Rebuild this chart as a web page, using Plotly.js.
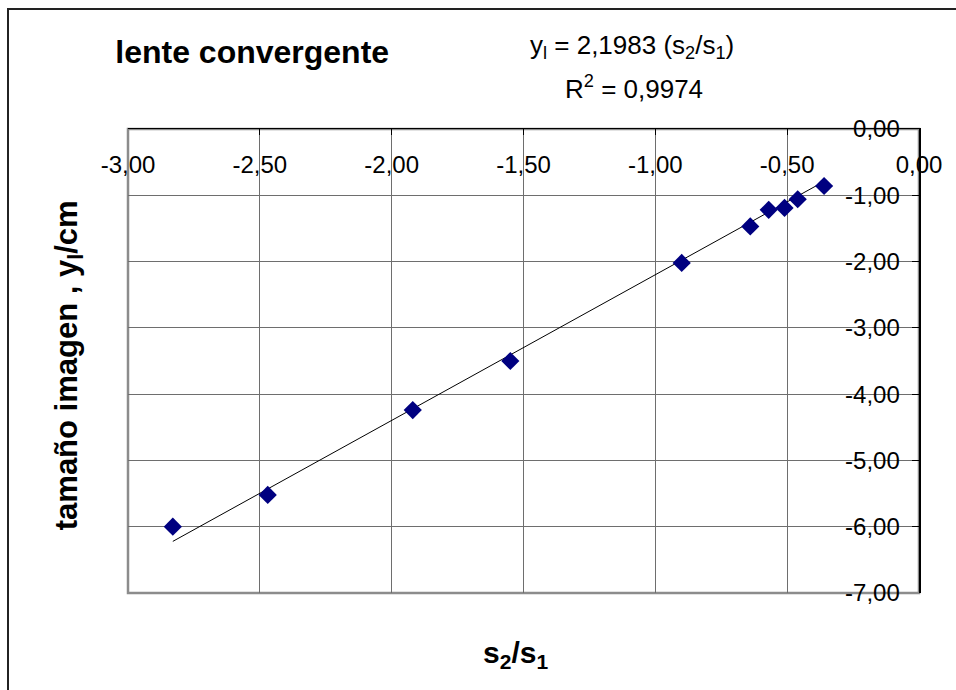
<!DOCTYPE html>
<html>
<head>
<meta charset="utf-8">
<script src="https://cdn.plot.ly/plotly-3.0.1.min.js"></script>
<style>html,body{margin:0;padding:0;background:#fff;}#chart{width:956px;height:690px;}</style>
</head>
<body>
<div id="chart"></div>
<script>
// Data
const ratioS2S1 = [-2.83, -2.47, -1.92, -1.55, -0.90, -0.64, -0.57, -0.51, -0.46, -0.36];
const imageSize = [-6.00, -5.52, -4.24, -3.50, -2.02, -1.47, -1.22, -1.19, -1.06, -0.86];
const trendSlope = 2.1983;   // from the printed trendline equation
const trendR2 = "0,9974";

const xTickVals = [-3, -2.5, -2, -1.5, -1, -0.5, 0];
const xTickText = ["-3,00", "-2,50", "-2,00", "-1,50", "-1,00", "-0,50", "0,00"];
const yTickVals = [0, -1, -2, -3, -4, -5, -6, -7];
const yTickText = ["0,00", "-1,00", "-2,00", "-3,00", "-4,00", "-5,00", "-6,00", "-7,00"];

const chartTitle = "lente convergente";
const xTitle = "s<sub>2</sub>/s<sub>1</sub>";
const yTitle = "tamaño imagen , y<sub>l</sub>/cm";

const FONT = '"Liberation Sans", Arial, sans-serif';

const xMin = Math.min(...ratioS2S1), xMax = Math.max(...ratioS2S1);
const trendX = [xMin, xMax];
const trendY = trendX.map(v => trendSlope * v);

const traces = [
  {
    x: trendX, y: trendY, type: 'scatter', mode: 'lines',
    line: {color: '#000000', width: 1}, hoverinfo: 'skip', showlegend: false
  },
  {
    x: ratioS2S1, y: imageSize, type: 'scatter', mode: 'markers',
    marker: {symbol: 'diamond', size: 14, color: '#000080', line: {width: 0}},
    showlegend: false
  }
];

const layout = {
  width: 956, height: 690,
  margin: {l: 128, r: 37, t: 129, b: 97, pad: 0},
  paper_bgcolor: '#ffffff', plot_bgcolor: '#ffffff',
  font: {family: FONT, color: '#000000'},
  showlegend: false,
  title: {
    text: chartTitle, font: {family: FONT, size: 32, weight: 'bold', color: '#000'},
    xref: 'paper', x: 0.157, xanchor: 'center',
    yref: 'container', y: 0.925, yanchor: 'middle'
  },
  xaxis: {
    range: [-3, 0], side: 'top', tickmode: 'array',
    tickvals: xTickVals, ticktext: xTickText,
    ticks: 'inside', ticklen: 6, tickwidth: 1, tickcolor: '#000',
    ticklabelposition: 'inside', ticklabeloverflow: 'allow', ticklabelstandoff: 23,
    tickfont: {family: FONT, size: 24, color: '#000'},
    showline: true, linecolor: '#000', linewidth: 1.5,
    showgrid: true, gridcolor: '#6e6e6e', gridwidth: 1, zeroline: false,
    fixedrange: true
  },
  yaxis: {
    range: [-7, 0], side: 'right', tickmode: 'array',
    tickvals: yTickVals, ticktext: yTickText,
    ticks: 'inside', ticklen: 7, tickwidth: 1, tickcolor: '#000',
    ticklabelposition: 'inside', ticklabeloverflow: 'allow', ticklabelstandoff: 14,
    tickfont: {family: FONT, size: 24, color: '#000'},
    showline: true, linecolor: '#000', linewidth: 1.5,
    showgrid: true, gridcolor: '#6e6e6e', gridwidth: 1, zeroline: false,
    fixedrange: true
  },
  shapes: [
    {type: 'rect', xref: 'paper', yref: 'paper', x0: 0, x1: 1, y0: 0, y1: 1,
     line: {color: '#8c8c8c', width: 2.5}, layer: 'below'},
    {type: 'rect', xref: 'paper', yref: 'paper', x0: -0.1517, x1: 1.2, y0: -0.4, y1: 1.2586,
     line: {color: '#222222', width: 2}, layer: 'above'}
  ],
  annotations: [
    {text: "y<sub>l</sub> = 2,1983 (s<sub>2</sub>/s<sub>1</sub>)", xref: 'paper', yref: 'paper',
     x: 0.637, y: 1.177, xanchor: 'center', yanchor: 'middle', showarrow: false,
     font: {family: FONT, size: 26, color: '#000'}},
    {text: "R<sup>2</sup> = " + trendR2, xref: 'paper', yref: 'paper',
     x: 0.640, y: 1.0905, xanchor: 'center', yanchor: 'middle', showarrow: false,
     font: {family: FONT, size: 26, color: '#000'}},
    {text: yTitle, xref: 'paper', yref: 'paper', x: -0.0745, y: 0.491,
     xanchor: 'center', yanchor: 'middle', textangle: -90, showarrow: false,
     font: {family: FONT, size: 31, weight: 'bold', color: '#000'}},
    {text: xTitle, xref: 'paper', yref: 'paper', x: 0.4905, y: -0.1336,
     xanchor: 'center', yanchor: 'middle', showarrow: false,
     font: {family: FONT, size: 30, weight: 'bold', color: '#000'}}
  ]
};

Plotly.newPlot('chart', traces, layout, {displayModeBar: false, staticPlot: true});
</script>
</body>
</html>
